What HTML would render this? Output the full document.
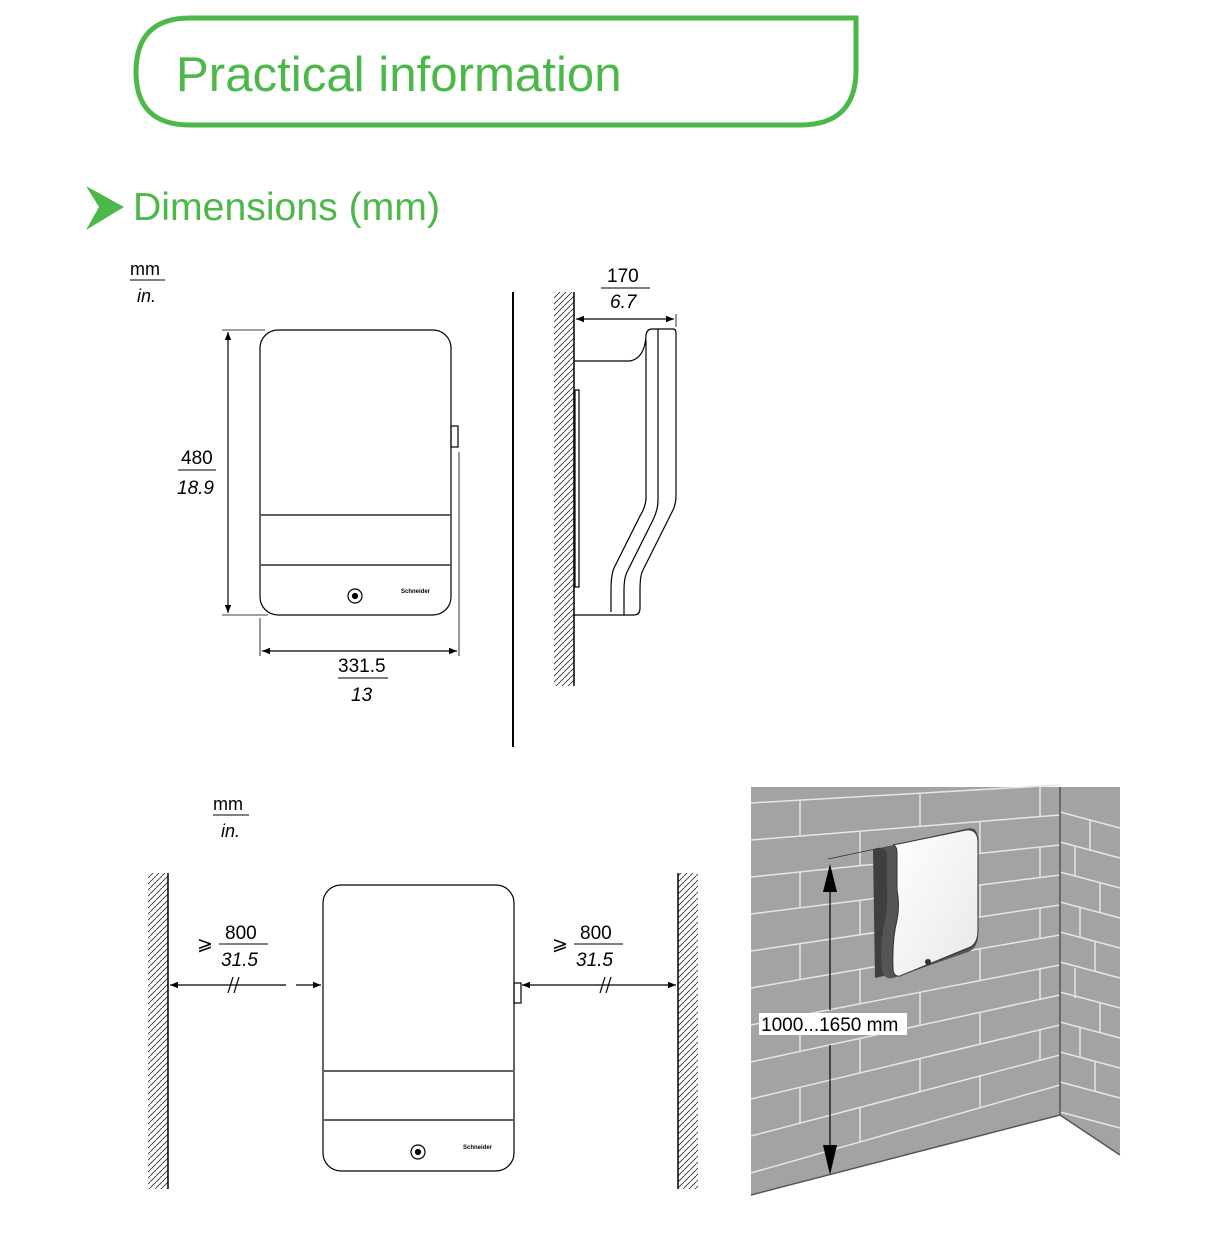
<!DOCTYPE html>
<html><head><meta charset="utf-8"><style>
html,body{margin:0;padding:0;background:#fff}
svg{display:block}
text{font-family:"Liberation Sans",sans-serif}
</style></head><body>
<svg width="1218" height="1242" viewBox="0 0 1218 1242" xmlns="http://www.w3.org/2000/svg">
<defs>
<pattern id="h" width="6" height="6" patternUnits="userSpaceOnUse"><path d="M-1,7 L7,-1" stroke="#333" stroke-width="0.9"/></pattern>
<marker id="a" viewBox="0 0 10 10" refX="10" refY="5" markerWidth="12" markerHeight="8" orient="auto-start-reverse" markerUnits="userSpaceOnUse"><path d="M0,1 L10,5 L0,9z" fill="#000"/></marker>
<linearGradient id="dev" x1="0" y1="0" x2="1" y2="1"><stop offset="0" stop-color="#fff"/><stop offset="1" stop-color="#e8e8e8"/></linearGradient>
</defs>
<!-- header -->
<path d="M190,18 H856 V70 Q856,125 800,125 H190 Q136,125 136,72 Q136,18 190,18Z" fill="none" stroke="#4cb848" stroke-width="5"/>
<text x="176" y="91" font-size="49.2" fill="#4cb848">Practical information</text>
<path d="M86,186 L124,207 L86,230 L99,207Z" fill="#4cb848"/>
<text x="133" y="220" font-size="39.2" fill="#4cb848">Dimensions (mm)</text>

<!-- unit legends -->
<g font-size="18" fill="#000">
<text x="130" y="275">mm</text><line x1="130" y1="280" x2="165" y2="280" stroke="#000"/><text x="137" y="302" font-style="italic">in.</text>
<text x="213" y="810">mm</text><line x1="213" y1="815" x2="249" y2="815" stroke="#000"/><text x="221" y="837" font-style="italic">in.</text>
</g>

<!-- front view -->
<g fill="none" stroke="#000" stroke-width="1.2">
<rect x="260" y="330" width="191" height="285" rx="18" fill="#fff"/>
<line x1="261" y1="515" x2="450" y2="515"/><line x1="261" y1="565" x2="450" y2="565"/>
<rect x="451" y="426" width="7" height="21"/>
<circle cx="355" cy="596" r="7"/><circle cx="355" cy="596" r="2.5" fill="#000"/>
<line x1="222" y1="330" x2="265" y2="330" stroke-width="0.8"/><line x1="222" y1="615" x2="268" y2="615" stroke-width="0.8"/>
<line x1="228" y1="332" x2="228" y2="613" marker-start="url(#a)" marker-end="url(#a)"/>
<line x1="260" y1="618" x2="260" y2="656" stroke-width="0.8"/><line x1="459" y1="452" x2="459" y2="656" stroke-width="0.8"/>
<line x1="262" y1="651" x2="457" y2="651" marker-start="url(#a)" marker-end="url(#a)"/>
</g>
<text x="401" y="593" font-size="6" font-weight="bold">Schneider</text>
<g font-size="19"><text x="181" y="464">480</text><line x1="178" y1="470" x2="216" y2="470" stroke="#000"/><text x="177" y="494" font-style="italic">18.9</text>
<text x="338" y="672">331.5</text><line x1="338" y1="678" x2="388" y2="678" stroke="#000"/><text x="351" y="701" font-style="italic">13</text></g>

<line x1="513" y1="292" x2="513" y2="747" stroke="#000" stroke-width="2"/>

<!-- side view -->
<rect x="554" y="292" width="20" height="394" fill="url(#h)"/>
<line x1="574" y1="292" x2="574" y2="686" stroke="#000" stroke-width="1.5"/>
<g fill="none" stroke="#000" stroke-width="1.2">
<path d="M574,361 H630 Q645,358 646,335 Q647,329 652,329 H673 Q676,329 676,333 V495 Q676,505 672,512 L643,570 Q640,575 640,590 V608 Q640,615 634,615 H574"/>
<path d="M658,329 V500 Q658,510 653,520 L627,572 Q624,578 624,590 V615"/>
<path d="M646,340 V500 Q645,508 640,516 L614,568 Q611,575 611,590 V612"/>
<rect x="575" y="390" width="4" height="197"/>
<line x1="676" y1="314" x2="676" y2="327" stroke-width="0.8"/>
<line x1="576" y1="319" x2="674" y2="319" marker-start="url(#a)" marker-end="url(#a)"/>
</g>
<g font-size="19"><text x="607" y="282">170</text><line x1="601" y1="288" x2="650" y2="288" stroke="#000"/><text x="610" y="308" font-style="italic">6.7</text></g>

<!-- bottom left clearance -->
<rect x="148" y="873" width="20" height="316" fill="url(#h)"/>
<line x1="168" y1="873" x2="168" y2="1189" stroke="#000" stroke-width="1.5"/>
<rect x="678" y="873" width="20" height="316" fill="url(#h)"/>
<line x1="678" y1="873" x2="678" y2="1189" stroke="#000" stroke-width="1.5"/>
<g fill="none" stroke="#000" stroke-width="1.2">
<rect x="323" y="885" width="191" height="286" rx="18" fill="#fff"/>
<line x1="324" y1="1071" x2="513" y2="1071"/><line x1="324" y1="1120" x2="513" y2="1120"/>
<rect x="514" y="983" width="7" height="20"/>
<circle cx="418" cy="1152" r="7"/><circle cx="418" cy="1152" r="2.5" fill="#000"/>
<line x1="170" y1="985" x2="286" y2="985" marker-start="url(#a)"/>
<line x1="296" y1="985" x2="321" y2="985" marker-end="url(#a)"/>
<line x1="522" y1="985" x2="676" y2="985" marker-start="url(#a)" marker-end="url(#a)"/>
<line x1="228" y1="993" x2="233" y2="977"/><line x1="234" y1="993" x2="239" y2="977"/>
<line x1="600" y1="993" x2="605" y2="977"/><line x1="606" y1="993" x2="611" y2="977"/>
</g>
<text x="463" y="1149" font-size="6" font-weight="bold">Schneider</text>
<g font-size="19"><text x="197" y="950">⩾</text><text x="225" y="939">800</text><line x1="219" y1="944" x2="268" y2="944" stroke="#000"/><text x="221" y="966" font-style="italic">31.5</text>
<text x="552" y="950">⩾</text><text x="580" y="939">800</text><line x1="574" y1="944" x2="623" y2="944" stroke="#000"/><text x="576" y="966" font-style="italic">31.5</text></g>

<!-- wall illustration -->
<polygon points="751,787 1120,787 1120,1155 1060,1115 751,1195" fill="#a3a3a4"/>
<g stroke="#e6e6e6" stroke-width="1.5" fill="none">
<line x1="751" y1="803" x2="1060" y2="785"/><line x1="751" y1="840" x2="1060" y2="815"/>
<line x1="751" y1="877" x2="1060" y2="845"/><line x1="751" y1="914" x2="1060" y2="875"/>
<line x1="751" y1="951" x2="1060" y2="905"/><line x1="751" y1="988" x2="1060" y2="935"/>
<line x1="751" y1="1025" x2="1060" y2="965"/><line x1="751" y1="1062" x2="1060" y2="995"/>
<line x1="751" y1="1099" x2="1060" y2="1025"/><line x1="751" y1="1136" x2="1060" y2="1055"/>
<line x1="751" y1="1173" x2="1060" y2="1085"/>
<path d="M800,800V836 M920,793V826 M1040,786V817
M860,831V866 M980,822V853
M800,872V908 M920,860V893 M1040,847V878
M860,900V935 M980,885V917
M800,944V980 M920,926V959 M1040,908V938
M860,969V1004 M980,949V981
M800,1016V1051 M920,992V1025 M1040,969V999
M860,1038V1073 M980,1012V1044
M800,1087V1123 M920,1059V1092 M1040,1030V1060
M860,1107V1142 M980,1076V1108"/>
<line x1="1060" y1="812" x2="1120" y2="828"/><line x1="1060" y1="842" x2="1120" y2="858"/>
<line x1="1060" y1="872" x2="1120" y2="888"/><line x1="1060" y1="902" x2="1120" y2="918"/>
<line x1="1060" y1="932" x2="1120" y2="948"/><line x1="1060" y1="962" x2="1120" y2="978"/>
<line x1="1060" y1="992" x2="1120" y2="1008"/><line x1="1060" y1="1022" x2="1120" y2="1038"/>
<line x1="1060" y1="1052" x2="1120" y2="1068"/><line x1="1060" y1="1082" x2="1120" y2="1098"/>
<line x1="1060" y1="1112" x2="1120" y2="1128"/>
<path d="M1090,820V850 M1075,846V876 M1100,882V912 M1080,908V938 M1095,942V972 M1075,968V998 M1100,1002V1032 M1080,1028V1058 M1095,1062V1092"/>
</g>
<line x1="1060" y1="787" x2="1060" y2="1115" stroke="#555" stroke-width="1.5"/>
<polyline points="751,1195 1060,1115 1120,1155" fill="none" stroke="#555" stroke-width="1.5"/>
<path d="M873,850 L888,846 L888,975 L875,978 Z" fill="#3f3f3f"/>
<path d="M880,848 L970,828 Q978,828 978,840 V935 Q978,948 968,952 L893,978 Q884,980 882,970 Q880,950 883,930 Q888,910 887,890 V855 Q887,848 880,848Z" fill="#555"/>
<path d="M893,845 L966,830 Q978,829 978,842 V930 Q978,945 968,948 L900,976 Q893,977 893,968 Q892,940 897,920 Q900,905 897,890 V853 Q897,846 893,845Z" fill="url(#dev)" stroke="#333" stroke-width="1"/>
<circle cx="928" cy="962" r="3" fill="#333"/>
<line x1="828" y1="859" x2="880" y2="848" stroke="#333" stroke-width="0.7"/>
<line x1="830" y1="885" x2="830" y2="1010" stroke="#000" stroke-width="1.2"/>
<line x1="830" y1="1045" x2="830" y2="1150" stroke="#000" stroke-width="1.2"/>
<path d="M830,864 L823,892 L837,892Z" fill="#000"/>
<path d="M830,1175 L823,1145 L837,1145Z" fill="#000"/>
<rect x="759" y="1013" width="148" height="22" fill="#fff"/>
<text x="761" y="1031" font-size="19">1000...1650 mm</text>
</svg>
</body></html>
